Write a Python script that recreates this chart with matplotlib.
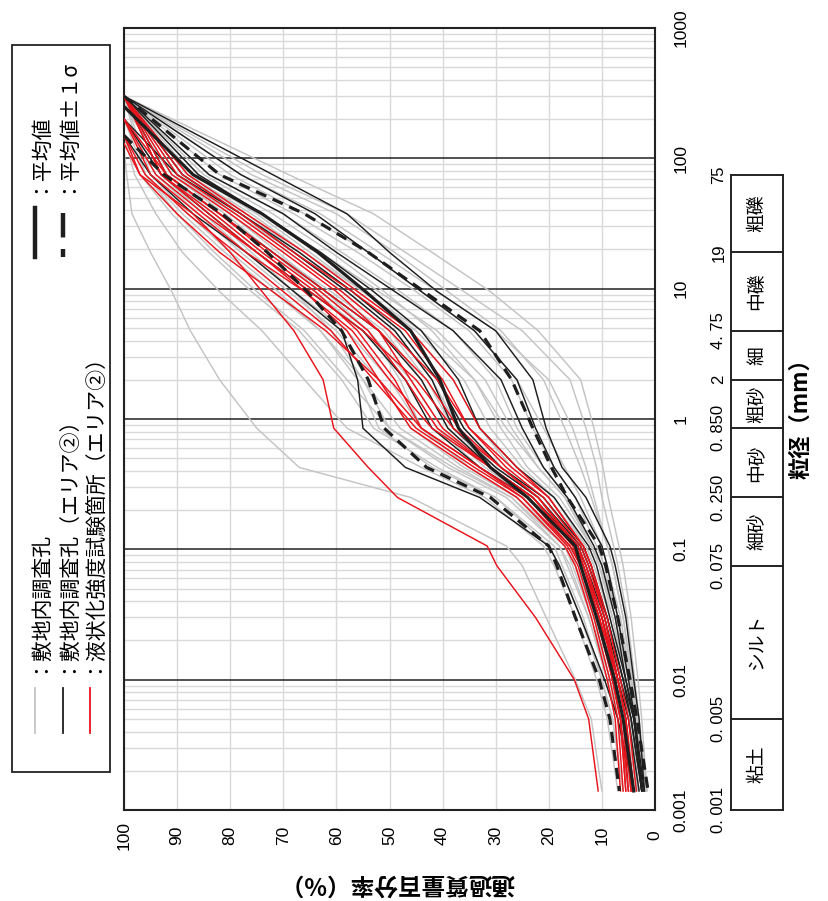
import matplotlib
matplotlib.use('Agg')
import matplotlib.pyplot as plt
import matplotlib.transforms as mtransforms
from matplotlib.lines import Line2D
from matplotlib.patches import Rectangle
from matplotlib.ticker import LogLocator, NullFormatter
import numpy as np

JP = ['Noto Sans CJK JP', 'DejaVu Sans']
plt.rcParams['font.family'] = ['Liberation Sans', 'DejaVu Sans']

# ふるい目 (mm)
sieve = [75, 37.5, 19, 9.5, 4.75, 2, 0.85, 0.425, 0.25, 0.106, 0.075, 0.03, 0.01, 0.005, 0.0014]

# 敷地内調査孔 (gray)
gray_dmax = [300, 300, 300, 120, 300, 300, 300, 200, 300, 300, 250, 300, 150, 300,
             300, 200, 300, 300, 300, 150, 300, 300, 200, 300, 300, 300, 300, 200]
gray_pass = [
    [69, 53, 42, 31, 22, 14, 11.5, 9.8, 8.8, 6.8, 6.0, 4.5, 3.2, 2.5, 1.5],
    [74, 58, 47, 36, 25, 16, 13, 11, 10, 7.8, 7.0, 5.2, 3.8, 3.0, 1.8],
    [78, 63, 52, 41, 30, 20, 15.5, 13, 11.5, 9, 8, 6, 4.4, 3.4, 2.2],
    [99.5, 98.5, 95, 91, 87.5, 82, 75, 67, 46, 28, 25, 20.5, 15, 12, 10],
    [95, 88, 80, 71, 63, 56, 52, 42, 30, 20, 18, 14, 10, 8, 6],
    [93, 84, 76, 68, 61, 55, 50, 39, 28, 18, 16.5, 12.5, 9, 7, 5],
    [90, 80, 71, 62, 54, 48, 44, 35, 26, 16, 15, 11, 8, 6.5, 4.5],
    [92, 82, 72, 61, 51, 44, 39, 31, 23, 14, 12.5, 9, 6, 4.5, 3],
    [88, 76, 66, 56, 46, 38, 33, 27, 20, 13, 11.5, 8, 5.5, 4, 2.5],
    [85, 72, 61, 51, 42, 34, 29, 24, 18, 12, 10.5, 7.5, 5, 3.5, 2],
    [91, 79, 68, 58, 49, 42, 37, 30, 22, 14, 12.5, 9.5, 7, 5.5, 4],
    [96, 90, 83, 75, 66, 58, 50, 38, 27, 18, 16, 12.5, 9, 7, 5],
    [97, 91, 84, 76, 67, 59, 53, 41, 30, 19, 17.5, 13.5, 10, 8, 6],
    [89, 77, 66, 55, 44, 34, 28, 22, 17, 12, 10.5, 7.5, 5, 3.8, 2.2],
    [82, 68, 56, 45, 35, 27, 23, 19, 15, 11, 9.5, 7, 4.8, 3.5, 2],
    [94, 86, 78, 69, 60, 52, 46, 36, 26, 17, 15, 11.5, 8.5, 6.5, 4.5],
    [92, 83, 74, 64, 55, 47, 41, 33, 25, 16, 14, 10.5, 7.5, 5.5, 3.5],
    [87, 75, 65, 55, 45, 36, 31, 25, 19, 13, 11.5, 8.5, 6, 4.5, 3],
    [84, 70, 59, 48, 38, 30, 26, 21, 16.5, 12, 10.5, 8, 5.5, 4, 2.5],
    [98, 94, 89, 82, 74, 66, 58, 44, 32, 21, 19, 15, 11, 9, 7],
    [90, 79, 69, 59, 50, 43, 38, 31, 23, 15, 13.5, 10, 7, 5, 3],
    [86, 74, 63, 52, 41, 32, 27, 22, 17, 12, 10, 7, 4.5, 3.2, 1.8],
    [93, 85, 77, 68, 58, 50, 44, 35, 26, 17, 15, 11.5, 8.5, 6.5, 4.5],
    [91, 81, 72, 63, 54, 46, 40, 32, 24, 15, 13.5, 10, 7, 5, 3.2],
    [88, 77, 67, 57, 48, 41, 36, 29, 22, 14, 12, 9, 6.5, 4.8, 3],
    [80, 66, 54, 44, 34, 26, 21, 17, 14, 10, 9, 6.5, 4.5, 3.2, 1.8],
    [76, 60, 49, 39, 29, 21, 17, 14, 12, 9, 8, 6, 4.2, 3, 1.5],
    [96, 89, 81, 72, 63, 55, 48, 37, 27, 17, 15.5, 12, 8.5, 6.5, 4.5],
]

# 敷地内調査孔(エリア②) (black)
black_dmax = [300, 300, 300, 200, 150, 300, 300, 200, 300]
black_pass = [
    [72, 58, 50, 41, 30, 23, 20.5, 17.5, 13, 8.5, 7.5, 5.5, 4, 3, 2],
    [78, 64, 54, 44, 34, 26, 22.5, 19, 15, 10, 9, 7, 5, 3.8, 2.5],
    [84, 70, 60, 49, 38, 29, 25, 21, 16.5, 11.5, 10, 7.5, 5.5, 4, 2.5],
    [90, 78, 67, 57, 48, 41, 36, 29, 21, 13.5, 12, 9, 6, 4.5, 2.5],
    [95, 87, 77, 68, 59, 56, 55, 47, 33, 20, 18, 14, 9.5, 7, 4],
    [92, 82, 72, 62, 52, 44, 39, 31, 23, 14.5, 13, 9.5, 6.5, 4.5, 2.5],
    [89, 78, 68, 58, 49, 42, 38, 30, 22, 14, 12.5, 9, 6, 4, 2.2],
    [93, 84, 75, 65, 55, 47, 42, 33, 24, 15, 13.5, 10, 7, 5, 3],
    [86, 74, 63, 53, 44, 37, 33, 26, 19, 12.5, 11, 8.5, 5.5, 3.8, 2],
]

# 液状化強度試験箇所(エリア②) (red)
red_dmax = [130, 300, 200, 300, 150, 300, 200, 300, 150, 300, 300, 200, 300]
red_pass = [
    [97, 87, 80, 74, 68, 62.5, 60.5, 54, 48.5, 31.6, 29.8, 22.5, 15.2, 12.5, 10.7],
    [93, 83, 74, 64, 56, 49, 44, 33, 24, 16, 14, 10.5, 7, 5.5, 4],
    [95, 86, 77, 66, 57, 50, 42, 31, 23, 15, 13, 10, 7, 5.5, 4.5],
    [91, 80, 70, 60, 52, 46, 40, 31, 23, 15, 13.5, 10, 7.5, 6, 5],
    [96, 88, 79, 70, 61, 53, 45, 34, 25, 16, 14, 11, 8, 6.5, 5.5],
    [89, 78, 68, 57, 47, 40, 35, 28, 21, 14, 12.5, 9.5, 7, 5.5, 4],
    [94, 85, 75, 65, 55, 45, 38, 29, 22, 14.5, 13, 10, 7.5, 6, 4.5],
    [92, 82, 72, 62, 52, 43, 37, 29, 22, 15, 13.5, 10.5, 8, 6.5, 5.5],
    [97, 90, 82, 72, 62, 52, 44, 33, 25, 16.5, 14.5, 11.5, 8.5, 7, 6],
    [90, 79, 69, 59, 50, 41, 35, 27, 20, 13.5, 12, 9.5, 7, 5.5, 4.2],
    [93, 84, 75, 66, 58, 52, 46, 35, 26, 17, 15, 12, 9, 7.5, 6.5],
    [92, 82, 73, 63, 54, 47, 41, 31, 23, 15.5, 14, 10.5, 8, 6.5, 5],
    [88, 77, 66, 56, 46, 38, 33, 26, 20, 13.5, 12, 9, 6.5, 5, 3.5],
]

# 平均値, 平均値±1σ
mean_dmax, plus_dmax, minus_dmax = 250, 150, 300
mean_pass = [87, 74, 63.5, 54.5, 46, 40.5, 37, 31, 24, 15, 14, 11, 7.6, 6, 4]
plus_pass = [92.5, 81.5, 73, 65.5, 59, 54, 51, 43, 31, 20, 18.5, 15, 10.5, 8.5, 6.7]
minus_pass = [82, 66, 54, 43.5, 33, 27, 23, 19.5, 16.5, 10.5, 9.3, 7, 4.7, 3.4, 1.3]

# 粒度区分
class_bounds = [0.001, 0.005, 0.075, 0.25, 0.85, 2, 4.75, 19, 75]
class_bound_labels = ['0. 001', '0. 005', '0. 075', '0. 250', '0. 850', '2', '4. 75', '19', '75']
class_names = ['粘土', 'シルト', '細砂', '中砂', '粗砂', '細', '中礫', '粗礫']

pct_ticks = list(range(0, 101, 10))
size_ticks = [0.001, 0.01, 0.1, 1, 10, 100, 1000]
size_labels = ['0.001', '0.01', '0.1', '1', '10', '100', '1000']

W, H = 829, 901
def fx(px):
    return px / W
def fy(py):
    return 1 - py / H

fig = plt.figure(figsize=(W / 100, H / 100), dpi=100)
ax = fig.add_axes([fx(124), fy(810), fx(655) - fx(124), fy(28) - fy(810)])
ax.set_yscale('log')
ax.set_ylim(0.001, 1000)
ax.set_xlim(100, 0)
ax.set_xticks(pct_ticks)
ax.set_yticks(size_ticks)
ax.yaxis.set_minor_locator(LogLocator(base=10, subs=np.arange(2, 10)))
ax.yaxis.set_minor_formatter(NullFormatter())
ax.tick_params(which='both', length=0, labelbottom=False, labelleft=False)
ax.grid(axis='x', color='#d9d9d9', lw=1.0)
ax.grid(axis='y', which='minor', color='#d9d9d9', lw=1.0)
ax.grid(axis='y', which='major', color='#222222', lw=1.1)
ax.set_axisbelow(True)
for s in ax.spines.values():
    s.set_linewidth(1.5)
    s.set_color('#222222')

def curve(dmax, vals):
    return [100] + list(vals), [dmax] + sieve

for dm, v in zip(gray_dmax, gray_pass):
    x, y = curve(dm, v)
    ax.plot(x, y, color='#c4c4c4', lw=1.05, zorder=2)
for dm, v in zip(black_dmax, black_pass):
    x, y = curve(dm, v)
    ax.plot(x, y, color='#1e1e1e', lw=1.05, zorder=3)
for dm, v in zip(red_dmax, red_pass):
    x, y = curve(dm, v)
    ax.plot(x, y, color='#e8141c', lw=1.05, zorder=4)

x, y = curve(mean_dmax, mean_pass)
ax.plot(x, y, color='#1e1e1e', lw=2.3, zorder=5)
for dm, v in [(plus_dmax, plus_pass), (minus_dmax, minus_pass)]:
    x, y = curve(dm, v)
    ax.plot(x, y, color='#1e1e1e', lw=2.3, ls=(0, (3.5, 2.2)), zorder=5)

# 目盛りラベル
bx = mtransforms.blended_transform_factory(ax.transData, fig.transFigure)
for v in pct_ticks:
    ax.text(v, fy(835), str(v), transform=bx, rotation=90, ha='center', va='center',
            fontsize=12.5, clip_on=False)
by = mtransforms.blended_transform_factory(fig.transFigure, ax.transData)
for d, lab in zip(size_ticks, size_labels):
    ax.text(fx(681), d, lab, transform=by, rotation=90, ha='center', va='center',
            fontsize=12.5, clip_on=False)

# 粒度区分の表
x0, x1 = fx(731), fx(783)
for d, lab in zip(class_bounds, class_bound_labels):
    ax.text(fx(719), d, lab, transform=by, rotation=90, ha='center', va='center',
            fontsize=12, clip_on=False)
    ax.plot([x0, x1], [d, d], transform=by, color='#222222', lw=1.4, clip_on=False)
for xx in (x0, x1):
    ax.plot([xx, xx], [class_bounds[0], class_bounds[-1]], transform=by,
            color='#222222', lw=1.4, clip_on=False)
for i, name in enumerate(class_names):
    yc = np.sqrt(class_bounds[i] * class_bounds[i + 1])
    ax.text(fx(757), yc, name, transform=by, rotation=90, ha='center', va='center',
            fontsize=13.5, family=JP, clip_on=False)

fig.text(fx(801), fy(413), '粒径（mm）', rotation=90, ha='center', va='center',
         fontsize=16, fontweight='bold', family=JP)
fig.text(fx(397), fy(883), '通過質量百分率（%）', rotation=180, ha='center', va='center',
         fontsize=17, fontweight='bold', family=JP)

# 凡例
fig.add_artist(Rectangle((fx(12), fy(772)), fx(110) - fx(12), fy(45) - fy(772),
                         transform=fig.transFigure, fill=False, lw=1.3, ec='#222222'))
leg_cols = [35, 63, 90]
leg_colors = ['#c4c4c4', '#1e1e1e', '#e8141c']
leg_texts = ['：敷地内調査孔', '：敷地内調査孔（エリア②）', '：液状化強度試験箇所（エリア②）']
for cx, c, t in zip(leg_cols, leg_colors, leg_texts):
    fig.add_artist(Line2D([fx(cx), fx(cx)], [fy(688), fy(733)], transform=fig.transFigure,
                          color=c, lw=1.3))
    fig.text(fx(cx), fy(673), t, rotation=90, rotation_mode='anchor', ha='left',
             va='center', fontsize=15, family=JP)
fig.add_artist(Line2D([fx(35), fx(35)], [fy(208), fy(257)], transform=fig.transFigure,
                      color='#1e1e1e', lw=3.2))
fig.add_artist(Line2D([fx(63), fx(63)], [fy(213), fy(257)], transform=fig.transFigure,
                      color='#1e1e1e', lw=3.2, ls=(0, (5.5, 2.6))))
fig.text(fx(35), fy(193), '：平均値', rotation=90, rotation_mode='anchor', ha='left',
         va='center', fontsize=15, family=JP)
fig.text(fx(63), fy(193), '：平均値±１σ', rotation=90, rotation_mode='anchor', ha='left',
         va='center', fontsize=15, family=JP)

fig.savefig('out.png', dpi=100)
